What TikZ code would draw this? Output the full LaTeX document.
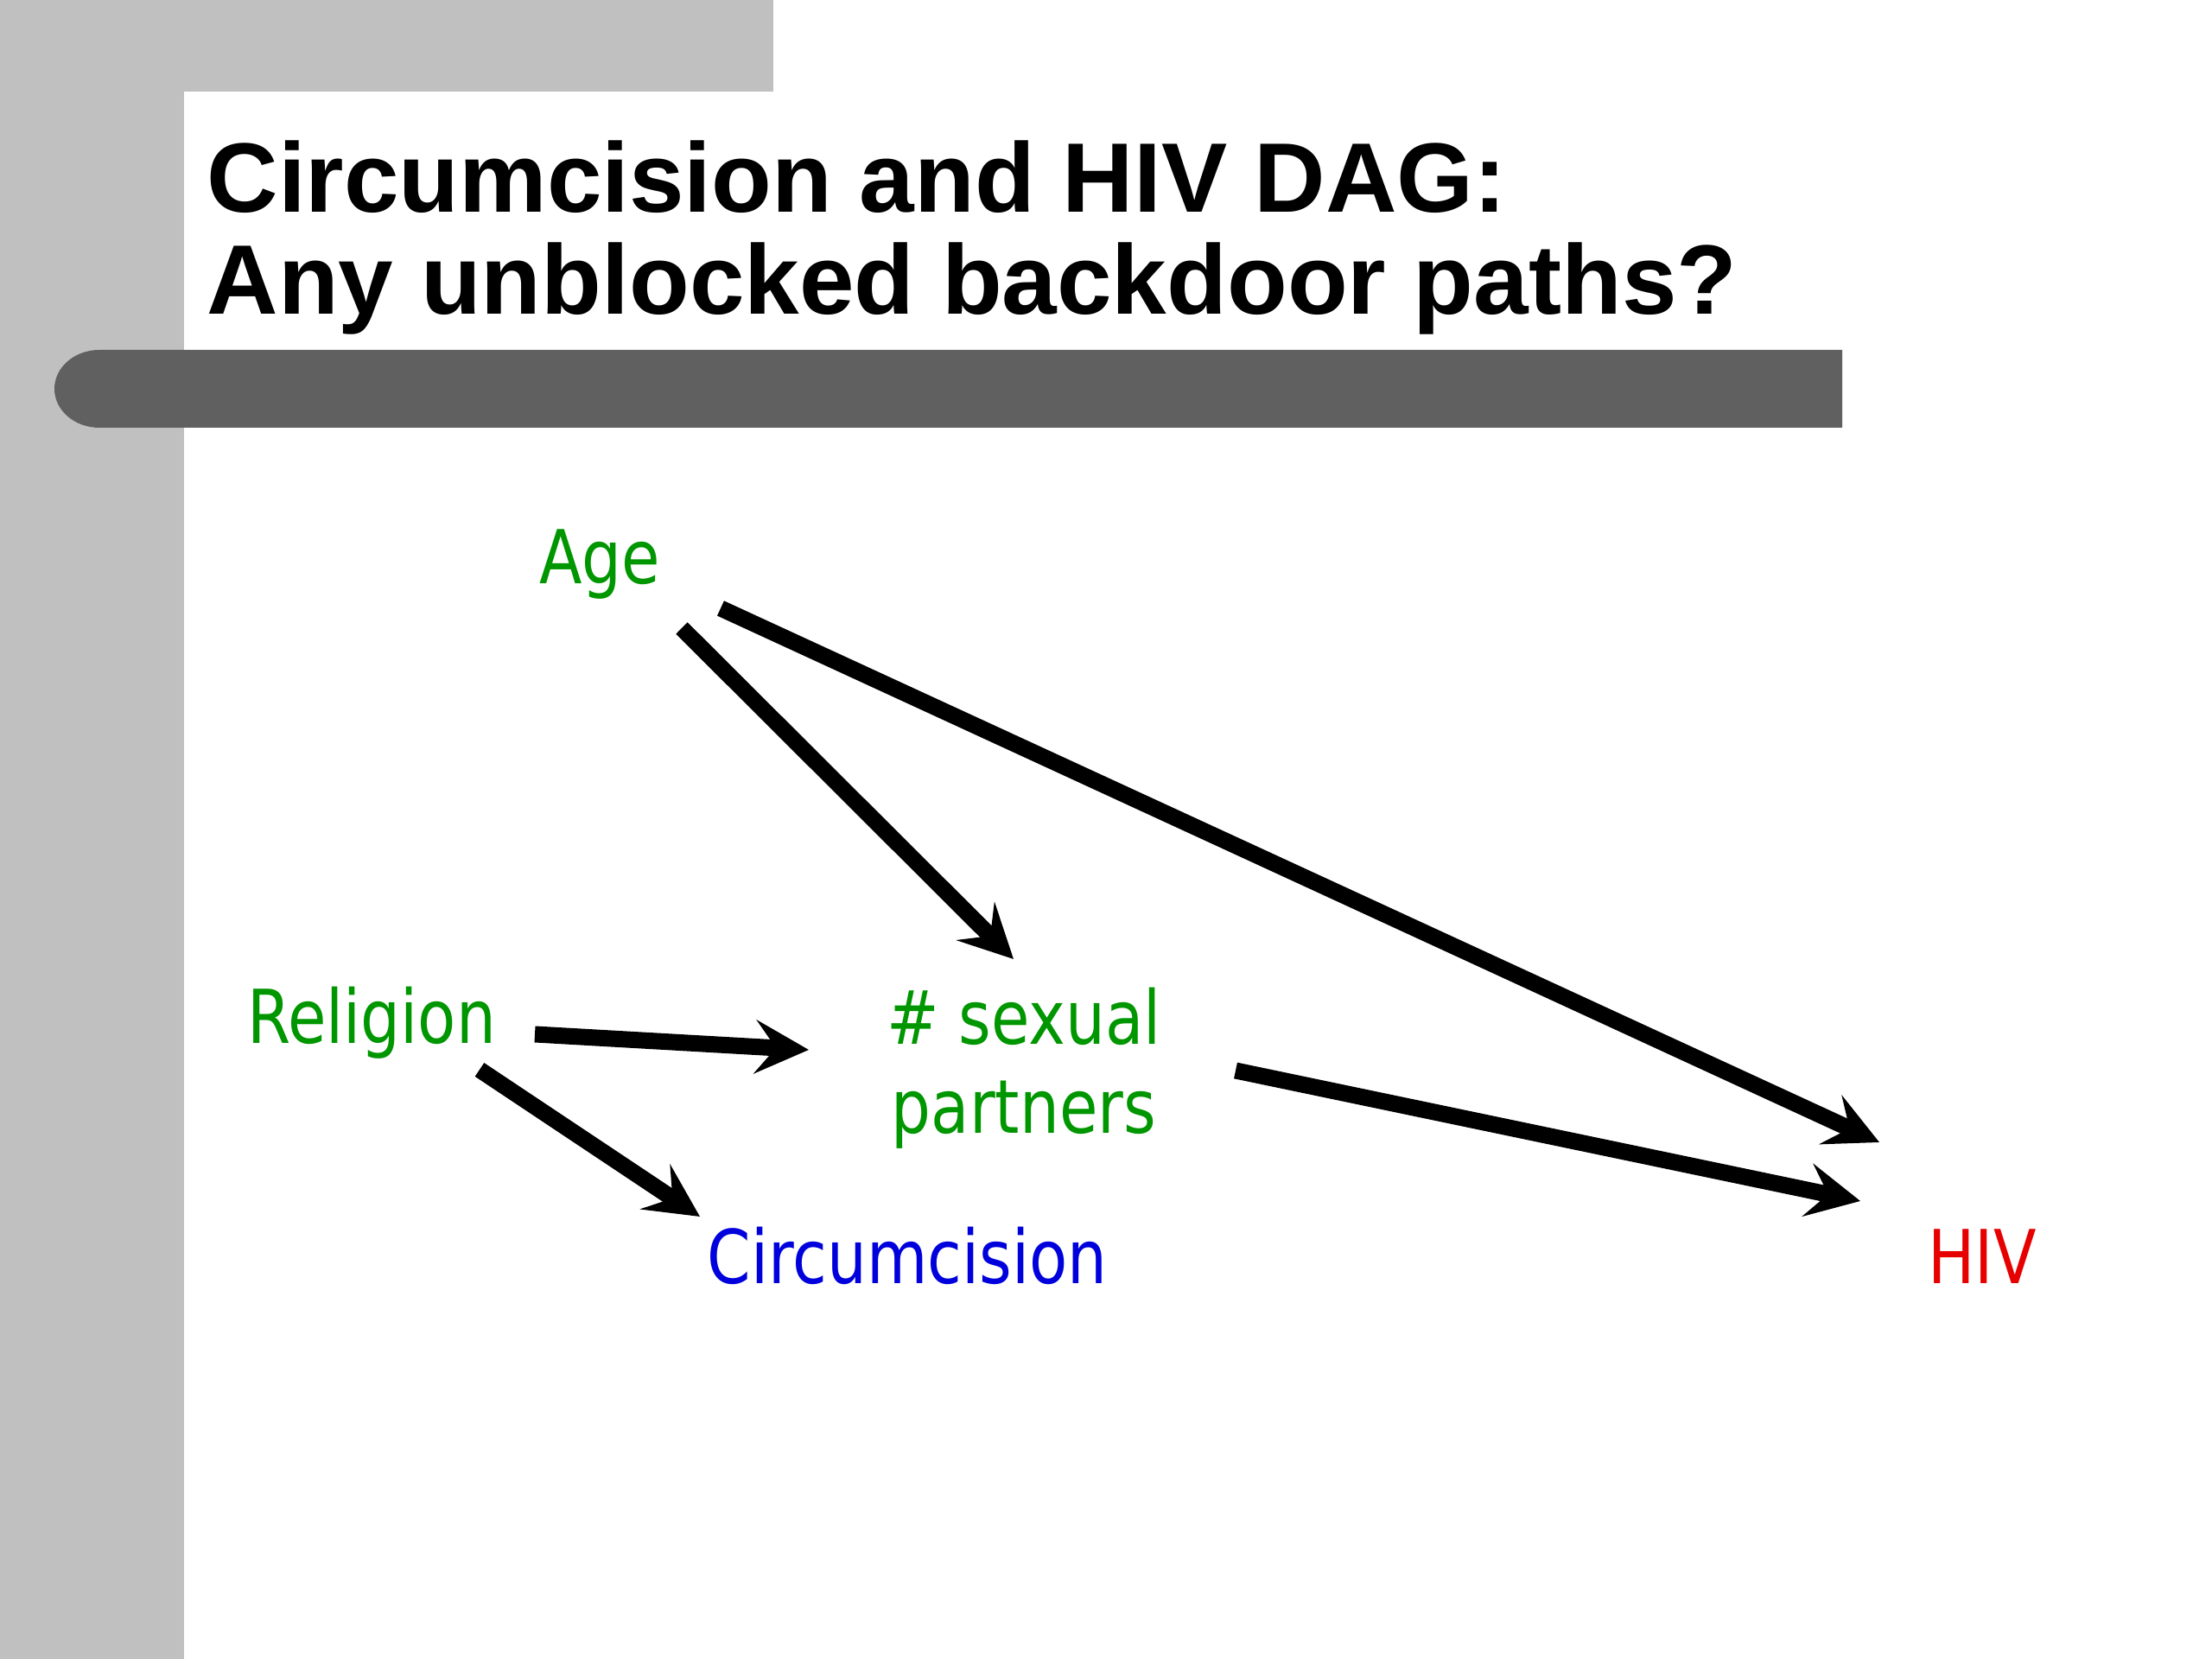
\documentclass[tikz,border=0pt]{standalone}
\usepackage{fontspec}
\usepackage{tikz}
\usetikzlibrary{arrows.meta}
\setmainfont{Liberation Sans}
\newfontfamily\dagfont[FakeStretch=0.84]{DejaVu Sans}
\definecolor{slidegray}{HTML}{C0C0C0}
\definecolor{bargray}{HTML}{606060}
\definecolor{confgreen}{RGB}{0,150,0}
\definecolor{expblue}{RGB}{0,0,220}
\definecolor{outred}{RGB}{230,0,0}

\begin{document}
\begin{tikzpicture}[
  dagtext/.style={inner sep=0, font=\dagfont\fontsize{24.5}{29.2}\selectfont},
  var/.style={dagtext, text height=0.66cm, text depth=0.2cm},
  causal/.style={line width=0.19cm, -{Stealth[length=0.62cm, width=0.62cm, inset=0.24cm]}}]
\useasboundingbox (0,0) rectangle (25.6,19.2);
\fill[slidegray] (0,19.2) rectangle (8.95,18.14);
\fill[slidegray] (0,0) rectangle (2.13,19.2);
\fill[bargray] (21.32,14.25) -- (1.15,14.25) arc[start angle=270, end angle=90, x radius=0.52, y radius=0.45] -- (21.32,15.15) -- cycle;
\node[anchor=base west, inner sep=0, align=left, font=\bfseries\fontsize{32.5}{33.8}\selectfont] (title) at (2.39,15.56) {Circumcision and HIV DAG:\\Any unblocked backdoor paths?};

\node[var, text=confgreen] (age) at (6.94,12.67) {Age};
\node[var, text=confgreen] (religion) at (4.30,7.35) {Religion};
\node[dagtext, align=center, text=confgreen] (partners) at (11.85,6.835) {\# sexual\\partners};
\node[var, text=expblue] (circ) at (10.50,4.57) {Circumcision};
\node[var, text=outred] (hiv) at (22.94,4.57) {HIV};

\draw[causal] ([shift={(0.95,-0.74)}]age.center) -- ([shift={(-0.12,1.265)}]partners.center);
\draw[causal] ([shift={(1.40,-0.51)}]age.center) -- ([shift={(-1.19,1.41)}]hiv.center);
\draw[causal] ([shift={(1.89,-0.12)}]religion.center) -- ([shift={(-2.49,0.215)}]partners.center);
\draw[causal] ([shift={(1.25,-0.53)}]religion.center) -- ([shift={(-2.40,0.55)}]circ.center);
\draw[causal] ([shift={(2.45,-0.025)}]partners.center) -- ([shift={(-1.41,0.73)}]hiv.center);
\end{tikzpicture}
\end{document}
